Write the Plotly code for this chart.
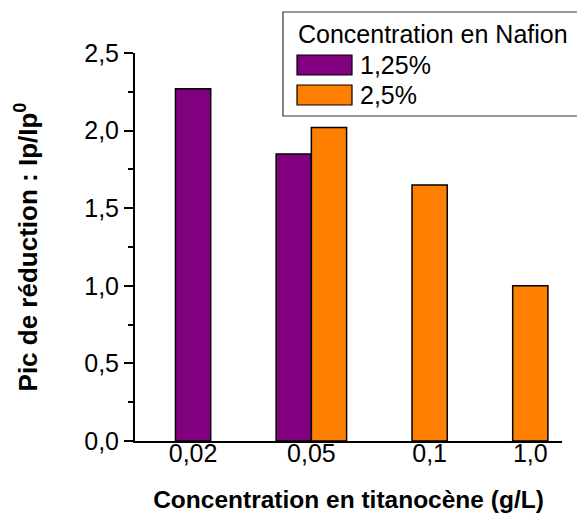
import plotly.graph_objects as go

# données
categories = ['0,02', '0,05', '0,1', '1,0']
serie_names = ['1,25%', '2,5%']
ip_125 = [2.27, 1.85, None, None]
ip_25 = [None, 2.02, 1.65, 1.00]
y_ticks = [0.0, 0.5, 1.0, 1.5, 2.0, 2.5]
y_tick_labels = ['0,0', '0,5', '1,0', '1,5', '2,0', '2,5']
legend_title = 'Concentration en Nafion'

colors = ['#800080', '#FF8000']
bar_w = 0.35
offsets = [-bar_w, 0]
font = 'Liberation Sans, Arial, sans-serif'

x = list(range(1, len(categories) + 1))
series = [ip_125, ip_25]

fig = go.Figure()
for vals, name, col, off in zip(series, serie_names, colors, offsets):
    fig.add_trace(go.Bar(
        x=x, y=vals, name=name, width=bar_w, offset=off,
        marker=dict(color=col, line=dict(color='black', width=1.5)),
        showlegend=False
    ))

# étiquettes centrées sous les barres présentes
tickvals = []
for i, xi in enumerate(x):
    centres = [xi + off + bar_w / 2 for vals, off in zip(series, offsets) if vals[i] is not None]
    tickvals.append(sum(centres) / len(centres))

# la page html ajoute 8 px de marge autour de la figure
fig.update_layout(
    width=577, height=505,
    margin=dict(l=127, r=23, t=45, b=72),
    plot_bgcolor='white', paper_bgcolor='white',
    font=dict(family=font, size=25, color='black'),
    xaxis=dict(
        range=[0.248, 4.49], tickvals=tickvals, ticktext=categories,
        showline=True, linecolor='black', linewidth=2, ticks='',
        ticklabelstandoff=-11,
        showgrid=False, zeroline=False, automargin=False,
        title=dict(text='<b>Concentration en titanocène (g/L)</b>',
                   font=dict(size=24.5), standoff=31),
    ),
    yaxis=dict(
        range=[0, 2.5], tickvals=y_ticks, ticktext=y_tick_labels,
        showline=True, linecolor='black', linewidth=2,
        ticks='outside', ticklen=9, tickwidth=1.5, tickcolor='black',
        minor=dict(dtick=0.25, ticks='outside', ticklen=5, tickwidth=1.5, tickcolor='black'),
        showgrid=False, zeroline=False, automargin=False,
        title=dict(text='<b>Pic de réduction : Ip/Ip<sup>0</sup></b>',
                   font=dict(size=26), standoff=39),
    ),
)

# légende dessinée à la main (carrés larges comme l'original)
def px_x(p):
    return (p - 135) / 427

def px_y(p):
    return (441 - p) / 388

fig.add_shape(type='rect', xref='paper', yref='paper',
              x0=px_x(283), x1=px_x(581), y0=px_y(116), y1=px_y(12),
              line=dict(color='#333333', width=1.2), fillcolor='white')
fig.add_annotation(xref='paper', yref='paper', x=px_x(296), y=px_y(34),
                   text=legend_title, showarrow=False, xanchor='left', yanchor='middle',
                   font=dict(size=25))
for k, (name, col) in enumerate(zip(serie_names, colors)):
    top = 55 + k * 30
    fig.add_shape(type='rect', xref='paper', yref='paper',
                  x0=px_x(297), x1=px_x(352), y0=px_y(top + 20), y1=px_y(top),
                  line=dict(color='black', width=1.2), fillcolor=col)
    fig.add_annotation(xref='paper', yref='paper', x=px_x(358), y=px_y(top + 10),
                       text=name, showarrow=False, xanchor='left', yanchor='middle',
                       font=dict(size=25))

fig.write_html('out.html')
